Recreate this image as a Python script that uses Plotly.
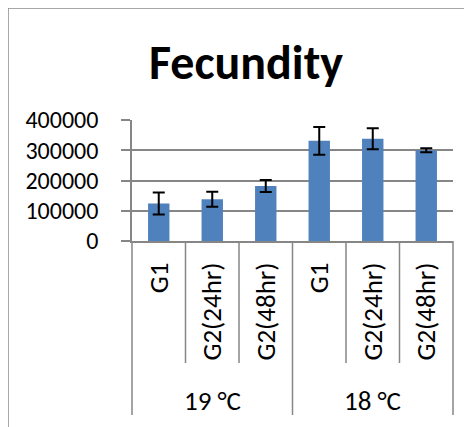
import plotly.graph_objects as go

groups = ["19 °C", "19 °C", "19 °C", "18 °C", "18 °C", "18 °C"]
treatments = ["G1", "G2(24hr)", "G2(48hr)", "G1", "G2(24hr)", "G2(48hr)"]
fecundity = [124000, 138000, 182000, 331000, 338000, 300000]
errors = [36000, 25000, 20000, 46000, 35000, 7000]
y_ticks = [0, 100000, 200000, 300000, 400000]

FONT = "Carlito, Lato, sans-serif"
GRID = "#868686"

# page offset (body margin) compensation: target positions minus 8 px
OFF = 8
W, H = 472, 427
L, T = 132 - OFF, 120 - OFF
PW, PH = 321, 121
R, B = W - L - PW, H - T - PH
AXIS_Y = T + PH  # figure px of x axis

keys = [f"{g}|{t}" for g, t in zip(groups, treatments)]

fig = go.Figure()
fig.add_trace(go.Bar(
    x=keys,
    y=fecundity,
    marker=dict(color="#4F81BD", line=dict(width=0)),
    error_y=dict(type="data", array=errors, visible=True,
                 color="black", thickness=2, width=6),
    width=0.4,
))

n = len(treatments)
shapes = []
for i in range(0, n + 1):
    outer = i == 0 or i == n or groups[i] != groups[i - 1]
    end = (415 if outer else 363) - OFF
    shapes.append(dict(type="line", xref="x domain", yref="y domain",
                       x0=i / n, x1=i / n, y0=0, y1=-(end - AXIS_Y) / PH,
                       line=dict(color=GRID, width=1.5)))
# chart area border (at figure origin)
shapes.append(dict(type="rect", xref="paper", yref="paper",
                   x0=-L / PW, x1=(W + 40 - L) / PW,
                   y0=-(H + 40 - T - PH) / PH, y1=1 + T / PH,
                   line=dict(color="#8c8c8c", width=1.5)))

# group labels under the treatments
annotations = []
unique_groups = list(dict.fromkeys(groups))
for g in unique_groups:
    idx = [i for i, gg in enumerate(groups) if gg == g]
    xc = (min(idx) + max(idx) + 1) / 2 / n
    annotations.append(dict(text=g, xref="x domain", yref="y domain",
                            x=xc, y=-(400 - OFF - AXIS_Y) / PH,
                            xanchor="center", yanchor="middle",
                            showarrow=False,
                            font=dict(family=FONT, size=27, color="black")))

fig.update_layout(
    width=W, height=H,
    margin=dict(l=L, r=R, t=T, b=B),
    paper_bgcolor="white", plot_bgcolor="white",
    font=dict(family=FONT, size=24, color="black"),
    title=dict(text="<b>Fecundity</b>", x=(246 - OFF) / W, xanchor="center",
               y=1 - (62 - OFF) / H, yanchor="middle",
               font=dict(family=FONT, size=48, color="black")),
    showlegend=False,
    shapes=shapes,
    annotations=annotations,
)
fig.update_yaxes(
    range=[0, 400000], tickvals=y_ticks, ticktext=[str(v) for v in y_ticks],
    showgrid=True, gridcolor=GRID, gridwidth=1.5,
    showline=True, linecolor=GRID, linewidth=1.5,
    ticks="outside", ticklen=9, tickcolor=GRID, tickwidth=1.5,
    ticklabelstandoff=18,
    zeroline=False, fixedrange=True, automargin=False,
)
fig.update_xaxes(
    type="category", tickvals=keys, ticktext=treatments,
    showline=True, linecolor=GRID, linewidth=1.5,
    ticks="", showgrid=False,
    tickangle=-90, tickfont=dict(size=27),
    ticklabelstandoff=9,
    automargin=False, fixedrange=True,
)

fig.write_html("out.html")
